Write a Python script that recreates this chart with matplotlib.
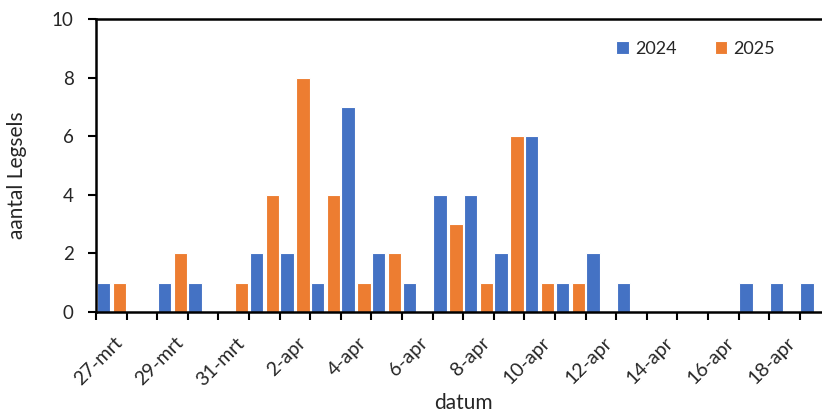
import matplotlib
matplotlib.use("Agg")
import matplotlib.pyplot as plt
import matplotlib.transforms as mtransforms
import numpy as np

dates = ["27-mrt", "28-mrt", "29-mrt", "30-mrt", "31-mrt", "1-apr", "2-apr", "3-apr",
         "4-apr", "5-apr", "6-apr", "7-apr", "8-apr", "9-apr", "10-apr", "11-apr",
         "12-apr", "13-apr", "14-apr", "15-apr", "16-apr", "17-apr", "18-apr", "19-apr"]
v2024 = [1, 0, 1, 1, 0, 2, 2, 1, 7, 2, 1, 4, 4, 2, 6, 1, 2, 1, 0, 0, 0, 1, 1, 1]
v2025 = [1, 0, 2, 0, 1, 4, 8, 4, 1, 2, 0, 3, 1, 6, 1, 1, 0, 0, 0, 0, 0, 0, 0, 0]
yticks = [0, 2, 4, 6, 8, 10]

plt.rcParams['font.family'] = ['Lato', 'DejaVu Sans']
blue = "#4472C4"
orange = "#ED7D31"
tc = "#262626"

fig = plt.figure(figsize=(8.22, 4.12), dpi=100)
W, H = 822, 412
x0, x1 = 96, 830.4
ytop, ybot = 19, 312
ax = fig.add_axes([x0 / W, (H - ybot) / H, (x1 - x0) / W, (ybot - ytop) / H])

x = np.arange(len(dates))
bw = 0.44
off = 0.26
ax.bar(x - off, v2024, width=bw, color=blue, edgecolor="white", linewidth=0.8, label="2024", zorder=2)
ax.bar(x + off, v2025, width=bw, color=orange, edgecolor="white", linewidth=0.8, label="2025", zorder=2)

ax.set_xlim(-0.5, len(dates) - 0.5)
ax.set_ylim(0, 10)
ax.set_yticks(yticks)
ax.set_yticklabels([str(t) for t in yticks], fontsize=13.5, color=tc)

ax.set_xticks(x[::2])
ax.set_xticklabels(dates[::2], rotation=45, ha="right", va="top", rotation_mode="anchor",
                   fontsize=14, color=tc)
ax.tick_params(axis="x", which="major", length=0, pad=16)
shift = mtransforms.ScaledTranslation(2 / 100, 0, fig.dpi_scale_trans)
for lab in ax.get_xticklabels():
    lab.set_transform(lab.get_transform() + shift)
ax.set_xticks(np.arange(len(dates) + 1) - 0.5, minor=True)
ax.tick_params(axis="x", which="minor", length=6, width=1.5, direction="out", color="black")
ax.tick_params(axis="y", which="major", length=6, width=1.5, direction="out", color="black", pad=10)

for s in ["left", "bottom", "top"]:
    ax.spines[s].set_linewidth(1.8)
    ax.spines[s].set_color("black")
    ax.spines[s].set_zorder(3)
ax.spines["right"].set_visible(False)

ax.set_ylabel("aantal Legsels", fontsize=15, color=tc)
ax.yaxis.set_label_coords((17 - x0) / (x1 - x0), (ybot - 175) / (ybot - ytop))
ax.set_xlabel("datum", fontsize=15, color=tc)
ax.xaxis.set_label_coords(0.5, (ybot - 403) / (ybot - ytop))
ax.xaxis.label.set_va("center")
ax.yaxis.label.set_va("center")

leg = ax.legend(loc="center left", bbox_to_anchor=(616 / W, 1 - 49 / H), bbox_transform=fig.transFigure,
                ncol=2, frameon=False, fontsize=13, handlelength=0.7, handleheight=0.7,
                handletextpad=0.35, columnspacing=2.1, borderpad=0, borderaxespad=0)
for t in leg.get_texts():
    t.set_color(tc)

fig.savefig("out.png", dpi=100)
